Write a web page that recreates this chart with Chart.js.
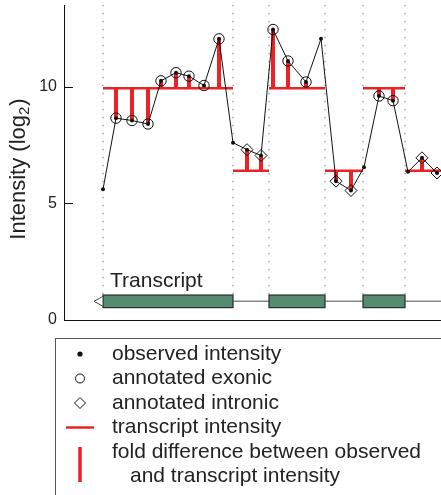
<!DOCTYPE html>
<html>
<head>
<meta charset="utf-8">
<script src="https://cdn.jsdelivr.net/npm/chart.js@4.4.0/dist/chart.umd.min.js"></script>
<style>
  html, body { margin: 0; padding: 0; background: #fff; }
  #wrap { width: 441px; height: 495px; }
</style>
</head>
<body>
<div id="wrap"><canvas id="myChart" width="441" height="495"></canvas></div>
<script>
// probe positions along the locus and their observed log2 intensity
const probePos = [39, 52, 68, 84, 97, 112, 125, 140, 155, 169, 183, 197, 209, 224, 242, 257, 272, 287, 300, 315, 329, 344, 358, 373];
const observed = [5.6, 8.65, 8.55, 8.4, 10.25, 10.6, 10.45, 10.05, 12.05, 7.6, 7.3, 7.05, 12.45, 11.1, 10.2, 12.05, 5.95, 5.55, 6.55, 9.6, 9.4, 6.35, 6.95, 6.3];
const annotation = ["", "exon", "exon", "exon", "exon", "exon", "exon", "exon", "exon", "", "intron", "intron", "exon", "exon", "exon", "", "intron", "intron", "", "exon", "exon", "", "intron", "intron"];

// transcript features and the fitted transcript intensity on each
const featureStart = [39, 169, 205, 261, 299, 341];
const featureEnd = [169, 205, 261, 299, 341, 377];
const featureType = ["exon", "intron", "exon", "intron", "exon", "intron"];
const transcriptLevel = [9.93, 6.4, 9.93, 6.4, 9.93, 6.4];

const yTicks = [0, 5, 10];

const RED = "#ec2227";
const FONT = "'Liberation Sans', Arial, Helvetica, sans-serif";

function levelAt(x) {
  for (let i = 0; i < featureStart.length; i++) {
    if (x >= featureStart[i] && x <= featureEnd[i]) return transcriptLevel[i];
  }
  return null;
}

const obsData = probePos.map((x, i) => ({ x: x, y: observed[i] }));
const exonData = probePos.map((x, i) => ({ x: x, y: observed[i] })).filter((p, i) => annotation[i] === "exon");
const intronData = probePos.map((x, i) => ({ x: x, y: observed[i] })).filter((p, i) => annotation[i] === "intron");

const stemData = [];
probePos.forEach((x, i) => {
  if (!annotation[i]) return;
  stemData.push({ x: x, y: levelAt(x) }, { x: x, y: observed[i] }, { x: x, y: null });
});

const levelData = [];
featureStart.forEach((s, i) => {
  levelData.push({ x: s, y: transcriptLevel[i] }, { x: featureEnd[i], y: transcriptLevel[i] }, { x: featureEnd[i], y: null });
});

const boundaryData = [];
featureStart.forEach((s) => {
  boundaryData.push({ x: s, y: 1.1 }, { x: s, y: 13.5 }, { x: s, y: null });
});

// inward tick marks, axis title, transcript glyph and the boxed legend
const extras = {
  id: "extras",
  afterDatasetsDraw(chart) {
    const ctx = chart.ctx;
    const xs = chart.scales.x;
    const ys = chart.scales.y;
    const area = chart.chartArea;
    ctx.save();

    // ticks
    ctx.strokeStyle = "#111";
    ctx.lineWidth = 1;
    yTicks.forEach((t) => {
      const py = Math.round(ys.getPixelForValue(t)) + 0.5;
      ctx.beginPath();
      ctx.moveTo(area.left, py);
      ctx.lineTo(area.left + 9, py);
      ctx.stroke();
    });

    // y title with a real subscript
    ctx.save();
    ctx.translate(25, 169);
    ctx.rotate(-Math.PI / 2);
    ctx.fillStyle = "#222";
    ctx.textBaseline = "alphabetic";
    ctx.textAlign = "left";
    const big = "22px " + FONT;
    const small = "15px " + FONT;
    ctx.font = big;
    const w1 = ctx.measureText("Intensity (log").width;
    const w3 = ctx.measureText(")").width;
    ctx.font = small;
    const w2 = ctx.measureText("2").width + 1;
    let tx0 = -(w1 + w2 + w3) / 2;
    ctx.font = big;
    ctx.fillText("Intensity (log", tx0, 0);
    ctx.font = small;
    ctx.fillText("2", tx0 + w1, 4);
    ctx.font = big;
    ctx.fillText(")", tx0 + w1 + w2, 0);
    ctx.restore();

    // transcript glyph
    const yc = ys.getPixelForValue(0.8);
    const h = 6.3;
    const exonIdx = featureType.map((t, i) => (t === "exon" ? i : -1)).filter((i) => i >= 0);
    const firstEnd = xs.getPixelForValue(featureEnd[exonIdx[0]]);
    ctx.strokeStyle = "#888";
    ctx.lineWidth = 1.5;
    ctx.beginPath();
    ctx.moveTo(firstEnd, yc);
    ctx.lineTo(area.right, yc);
    ctx.stroke();
    exonIdx.forEach((i) => {
      const x0 = xs.getPixelForValue(featureStart[i]);
      const x1 = xs.getPixelForValue(featureEnd[i]);
      ctx.fillStyle = "#558b6e";
      ctx.fillRect(x0, yc - h, x1 - x0, 2 * h);
      ctx.strokeStyle = "#2b2b2b";
      ctx.lineWidth = 1.2;
      ctx.strokeRect(x0, yc - h, x1 - x0, 2 * h);
    });
    // open arrow for strand direction
    const ax = xs.getPixelForValue(featureStart[0]);
    ctx.fillStyle = "#fff";
    ctx.strokeStyle = "#444";
    ctx.lineWidth = 1;
    ctx.beginPath();
    ctx.moveTo(ax, yc - 5);
    ctx.lineTo(ax - 9, yc);
    ctx.lineTo(ax, yc + 5);
    ctx.closePath();
    ctx.fill();
    ctx.stroke();

    ctx.fillStyle = "#222";
    ctx.font = "21px " + FONT;
    ctx.textBaseline = "middle";
    ctx.textAlign = "left";
    ctx.fillText("Transcript", ax + 7, ys.getPixelForValue(1.67));

    ctx.restore();
  },
  afterDraw(chart) {
    const ctx = chart.ctx;
    ctx.save();
    ctx.strokeStyle = "#555";
    ctx.lineWidth = 1;
    ctx.strokeRect(55.5, 338.5, 500, 300);

    const sx = 80;
    const tx = 112;
    const rows = [354, 378.5, 403, 427.5, 452, 476.5];
    ctx.fillStyle = "#111";
    ctx.beginPath();
    ctx.arc(sx, rows[0], 2.6, 0, Math.PI * 2);
    ctx.fill();

    ctx.strokeStyle = "#111";
    ctx.lineWidth = 1;
    ctx.beginPath();
    ctx.arc(sx, rows[1], 4.5, 0, Math.PI * 2);
    ctx.stroke();

    ctx.beginPath();
    ctx.moveTo(sx, rows[2] - 5.5);
    ctx.lineTo(sx + 5.5, rows[2]);
    ctx.lineTo(sx, rows[2] + 5.5);
    ctx.lineTo(sx - 5.5, rows[2]);
    ctx.closePath();
    ctx.stroke();

    ctx.strokeStyle = RED;
    ctx.lineWidth = 2.5;
    ctx.beginPath();
    ctx.moveTo(66, rows[3]);
    ctx.lineTo(94, rows[3]);
    ctx.stroke();

    ctx.lineWidth = 3.5;
    ctx.beginPath();
    ctx.moveTo(sx, 447);
    ctx.lineTo(sx, 482);
    ctx.stroke();

    ctx.fillStyle = "#222";
    ctx.font = "21px " + FONT;
    ctx.textBaseline = "middle";
    ctx.textAlign = "left";
    ctx.fillText("observed intensity", tx, rows[0]);
    ctx.fillText("annotated exonic", tx, rows[1]);
    ctx.fillText("annotated intronic", tx, rows[2]);
    ctx.fillText("transcript intensity", tx, rows[3]);
    ctx.fillText("fold difference between observed", tx, rows[4]);
    ctx.fillText("and transcript intensity", tx + 18, rows[5]);
    ctx.restore();
  },
};

const ctx = document.getElementById("myChart").getContext("2d");

const myChart = new Chart(ctx, {
  type: "line",
  data: {
    datasets: [
      {
        label: "annotated exonic",
        data: exonData,
        showLine: false,
        pointStyle: "circle",
        pointRadius: 5.2,
        pointBorderWidth: 1,
        pointBorderColor: "#111",
        pointBackgroundColor: "rgba(0,0,0,0)",
      },
      {
        label: "annotated intronic",
        data: intronData,
        showLine: false,
        pointStyle: "rectRot",
        pointRadius: 6,
        pointBorderWidth: 1,
        pointBorderColor: "#111",
        pointBackgroundColor: "rgba(0,0,0,0)",
      },
      {
        label: "observed intensity",
        data: obsData,
        borderColor: "#111",
        borderWidth: 1,
        pointRadius: 2,
        pointBorderWidth: 0,
        pointBackgroundColor: "#111",
        tension: 0,
      },
      {
        label: "fold difference",
        data: stemData,
        borderColor: RED,
        borderWidth: 4,
        borderCapStyle: "butt",
        pointRadius: 0,
        spanGaps: false,
      },
      {
        label: "transcript intensity",
        data: levelData,
        borderColor: RED,
        borderWidth: 2.5,
        borderCapStyle: "butt",
        pointRadius: 0,
        spanGaps: false,
      },
      {
        label: "feature boundaries",
        data: boundaryData,
        borderColor: "#777",
        borderWidth: 1,
        borderDash: [1.5, 6.5],
        pointRadius: 0,
        spanGaps: false,
      },
    ],
  },
  options: {
    responsive: false,
    animation: false,
    layout: {
      autoPadding: false,
      padding: { top: 5, right: 0, bottom: 175, left: 0 },
    },
    plugins: {
      legend: { display: false },
      tooltip: { enabled: false },
    },
    scales: {
      x: {
        type: "linear",
        min: 0,
        max: 377,
        grid: { display: false },
        ticks: { display: false },
        border: { display: true, color: "#111", width: 1 },
        afterFit: (scale) => {
          scale.height = 0;
          scale.paddingLeft = 0;
          scale.paddingRight = 0;
        },
      },
      y: {
        min: 0,
        max: 13.5,
        grid: { display: false, drawTicks: false },
        border: { display: true, color: "#111", width: 1 },
        ticks: {
          stepSize: 5,
          includeBounds: false,
          padding: 7,
          color: "#222",
          font: { family: FONT, size: 16 },
        },
        afterFit: (scale) => {
          scale.width = 64;
          scale.paddingTop = 0;
          scale.paddingBottom = 0;
        },
      },
    },
  },
  plugins: [extras],
});
</script>
</body>
</html>
